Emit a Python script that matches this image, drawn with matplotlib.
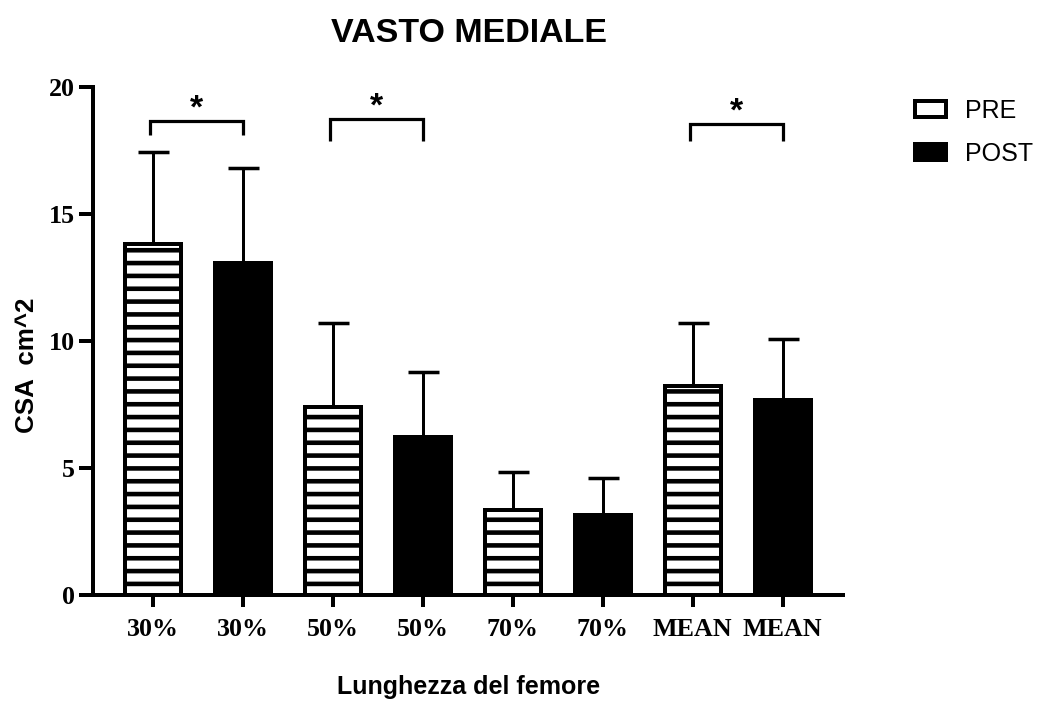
import matplotlib
matplotlib.use("Agg")
import matplotlib.pyplot as plt
from matplotlib.patches import Patch

# Data: cross-sectional area (cm^2) of vastus medialis, PRE vs POST
categories = ["30%", "30%", "50%", "50%", "70%", "70%", "MEAN", "MEAN"]
groups = ["PRE", "POST", "PRE", "POST", "PRE", "POST", "PRE", "POST"]
means = [13.8, 13.05, 7.38, 6.22, 3.36, 3.15, 8.24, 7.68]
sd = [3.64, 3.75, 3.32, 2.56, 1.48, 1.45, 2.46, 2.40]

# Significance brackets: (left bar, right bar), top and foot heights
bracket_pairs = [(0, 1), (2, 3), (6, 7)]
bracket_tops = [18.66, 18.74, 18.54]
bracket_feet = [18.10, 17.87, 17.87]
bracket_labels = ["*", "*", "*"]

DPI = 77
PX = 72.0 / DPI  # points per pixel

plt.rcParams["hatch.linewidth"] = 4.6 * PX
plt.rcParams["hatch.color"] = "black"

fig = plt.figure(figsize=(1044 / DPI, 702 / DPI), dpi=DPI)
ax = fig.add_axes([93 / 1044, 1 - 595 / 702, (843 - 93) / 1044, (595 - 86.7) / 702])

x = list(range(len(categories)))
lw = 4 * PX
for xi, m, g in zip(x, means, groups):
    if g == "PRE":
        ax.bar(xi, m, width=0.62, facecolor="white", edgecolor="black",
               linewidth=lw, hatch="-", zorder=2)
    else:
        ax.bar(xi, m, width=0.62, facecolor="black", edgecolor="black",
               linewidth=lw, zorder=2)

ax.errorbar(x, means, yerr=[[0] * len(sd), sd], fmt="none", ecolor="black",
            elinewidth=3 * PX, capsize=15.5 * PX, capthick=3.5 * PX, zorder=1)

for (a, b), top, foot, lab in zip(bracket_pairs, bracket_tops, bracket_feet, bracket_labels):
    ax.plot([a - 0.03, a - 0.03, b, b], [foot, top, top, foot], color="black",
            lw=3.2 * PX, solid_capstyle="butt", solid_joinstyle="miter",
            clip_on=False, zorder=3)
    ax.text((a + b) / 2 - 0.015, top + 0.12, lab, ha="center", va="baseline",
            fontsize=34 * PX, fontweight="bold", family="Liberation Sans")

ax.set_xlim(-0.667, 7.67)
ax.set_ylim(0, 20)
ax.set_yticks([0, 5, 10, 15, 20])
ax.set_xticks(x)
ax.set_xticklabels(categories)

for s in ["top", "right"]:
    ax.spines[s].set_visible(False)
for s in ["left", "bottom"]:
    ax.spines[s].set_linewidth(lw)
ax.spines["left"].set_capstyle("projecting")

ax.tick_params(axis="y", width=lw, length=14 * PX, pad=4 * PX)
ax.tick_params(axis="x", width=lw, length=12 * PX, pad=11 * PX)
for t in ax.get_xticklabels() + ax.get_yticklabels():
    t.set_fontfamily("Liberation Serif")
    t.set_fontweight("bold")
    t.set_fontsize(26 * PX)

fig.text(469 / 1044, 1 - 33 / 702, "VASTO MEDIALE", ha="center", va="center",
         fontsize=34 * PX, fontweight="bold", family="Liberation Sans")
fig.text(469 / 1044, 1 - 687 / 702, "Lunghezza del femore", ha="center", va="center",
         fontsize=25 * PX, fontweight="bold", family="Liberation Sans")
fig.text(27 / 1044, 1 - 365 / 702, "CSA  cm^2", ha="center", va="center", rotation=90,
         fontsize=26 * PX, fontweight="bold", family="Liberation Sans")

handles = [Patch(facecolor="white", edgecolor="black", linewidth=lw),
           Patch(facecolor="black", edgecolor="black", linewidth=lw)]
leg = fig.legend(handles, ["PRE", "POST"], loc="upper left",
                 bbox_to_anchor=(915 / 1044, 1 - 99 / 702), frameon=False,
                 borderpad=0, borderaxespad=0, handlelength=1.25, handleheight=0.6,
                 handletextpad=0.75, labelspacing=0.75,
                 prop={"family": "Liberation Sans", "size": 25 * PX})

fig.savefig("out.png", dpi=DPI)
